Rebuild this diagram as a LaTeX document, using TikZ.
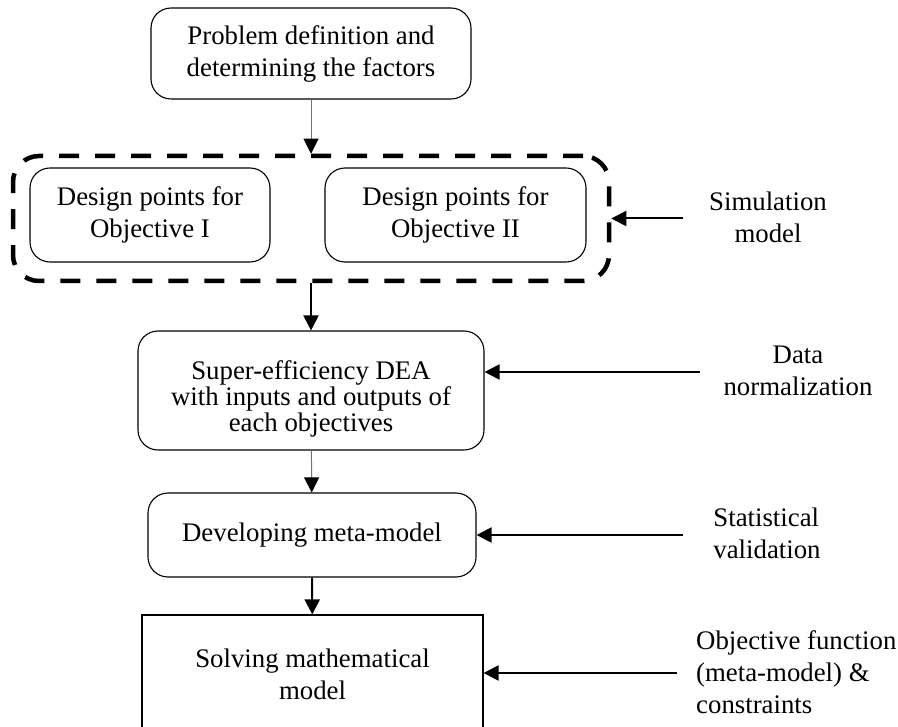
\documentclass[tikz,border=0pt]{standalone}
\usepackage{fontspec}
\setmainfont{Liberation Serif}
\usetikzlibrary{arrows.meta}
\tikzset{every picture/.style={x=1pt,y=-1pt,>={Triangle[length=15pt,width=15pt]}}}
\tikzset{stage/.style={draw, rounded corners=20pt, line width=1.1pt, align=center,
  inner sep=0pt, font=\fontsize{26.8}{32}\selectfont}}
\tikzset{plainstage/.style={stage, rounded corners=0pt}}
\tikzset{simgroup/.style={draw, rounded corners=26pt, line width=4.5pt,
  dash pattern=on 20pt off 16pt, inner sep=0pt}}
\tikzset{sidenote/.style={inner sep=0pt, font=\fontsize{26.8}{32}\selectfont}}
\tikzset{flow/.style={->, line width=2pt}}
\tikzset{thinflow/.style={-{Triangle[length=15pt,width=15pt,black]}, line width=1pt, black!55}}
\begin{document}
\begin{tikzpicture}
	\useasboundingbox (0,0) rectangle (898,727);
	\clip (0,0) rectangle (898,727);
	% main column
	\node[stage, minimum width=320pt, minimum height=91pt] (prob) at (311,53.5)
	{Problem definition and\\determining the factors};
	\node[simgroup, minimum width=596pt, minimum height=125pt] (sim) at (311,218.5) {};
	\node[stage, minimum width=240pt, minimum height=94pt] (obj1) at (150,215)
	{Design points for\\Objective I};
	\node[stage, minimum width=261pt, minimum height=94pt] (obj2) at (455.5,215)
	{Design points for\\Objective II};
	\node[stage, minimum width=346pt, minimum height=119pt,
	font=\fontsize{26.8}{26}\selectfont] (dea) at (311,390.5)
	{\rule{0pt}{36pt}Super-efficiency DEA\\with inputs and outputs of\\each objectives};
	\node[stage, minimum width=328pt, minimum height=84pt] (dev) at (312,535)
	{Developing meta-model};
	\node[plainstage, minimum width=341pt, minimum height=118pt] (solve) at (312.5,674)
	{Solving mathematical\\model};
	% side notes
	\node[sidenote, align=center] (simlbl) at (768,217) {Simulation\\model};
	\node[sidenote, align=center] (datalbl) at (798,371) {Data\\normalization};
	\node[sidenote, align=left] (statlbl) at (767,533) {Statistical\\validation};
	\node[sidenote, align=left, anchor=west] (objlbl) at (696,672)
	{Objective function\\(meta-model) \&\\constraints};
	\coordinate (simin) at (683,218.5);
	\coordinate (datain) at (700,372);
	\coordinate (statin) at (683,535);
	\coordinate (objin) at (677,673);
	% connectors
	\draw[thinflow] (prob) -- (sim);
	\draw[flow] (sim) -- (dea);
	\draw[thinflow] (dea) -- (dev);
	\draw[flow] (dev) -- (solve);
	\draw[flow] (simin) -- (sim.east);
	\draw[flow] (datain) -- (datain -| dea.east);
	\draw[flow] (statin) -- (statin -| dev.east);
	\draw[flow] (objin) -- (objin -| solve.east);
\end{tikzpicture}
\end{document}
